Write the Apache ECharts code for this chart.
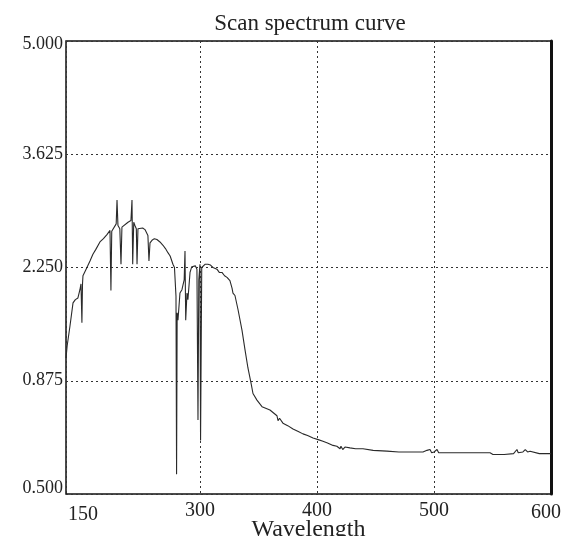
<!DOCTYPE html>
<html>
<head>
<meta charset="utf-8">
<script src="https://cdn.jsdelivr.net/npm/echarts@6/dist/echarts.min.js"></script>
<style>html,body{margin:0;padding:0;background:#fff;}#c{width:563px;height:536px;}</style>
</head>
<body>
<div id="c"></div>
<script>
var titleText = 'Scan spectrum curve';
var xName = 'Wavelength';
var xTickValues = [185.5, 300, 400, 500, 600];
var xTickLabels = ['150', '300', '400', '500', '600'];
var yTickValues = [-0.5, 0.875, 2.25, 3.625, 5];
var yTickLabels = ['0.500', '0.875', '2.250', '3.625', '5.000'];
var wavelength = [
 185.5,186.5,188.9,191.5,193.5,195.7,197.4,198.3,199.1,199.6,200.0,203.4,206,208.5,211,214.5,217.5,220.5,223.1,223.9,
 224.6,225.6,228.4,229.1,229.9,231.5,232.5,233.3,234.2,238.5,241.0,241.9,242.5,243.4,244.4,245.6,246.2,247,248.7,251,
 253.0,255.5,256.4,257.3,259.0,261,263.2,265.8,268.4,270.5,272.6,274.5,276.1,276.9,278.2,279.5,280.0,280.5,281.2,282.9,
 284.6,285.5,286.5,287.2,287.8,288.9,289.7,291.5,293,294.0,296,297.4,298.3,299.0,300.0,300.5,301.5,302.6,304.5,306.8,
 309,311.1,314.5,316.5,318.8,321,323.1,325.6,327.4,328.2,329.9,332.5,335.9,338.5,341.0,343.6,345.3,348.7,353.0,359.8,
 365.8,366.7,368,370.9,375,379.5,384,388.0,392,396.6,401,405.1,409,413.7,417,419.7,420.5,422,423.9,425,
 428.2,433,439.3,448,459.8,470,480,490.6,494,496.6,498,500,502.6,504,520,535,547.9,550.4,560,568,
 570.9,572,576,578,580,582.1,590,600
];
var absorbance = [
 1.15,1.30,1.54,1.82,1.86,1.88,1.98,2.05,1.58,2.05,2.15,2.25,2.33,2.41,2.47,2.56,2.60,2.65,2.70,1.97,
 2.69,2.71,2.78,3.07,2.76,2.72,2.29,2.74,2.76,2.80,2.82,3.07,2.29,2.80,2.76,2.72,2.29,2.72,2.74,2.73,
 2.71,2.64,2.33,2.55,2.58,2.60,2.59,2.56,2.52,2.48,2.43,2.39,2.37,2.29,2.25,1.90,-0.26,1.70,1.61,1.94,
 1.98,2.04,2.10,2.45,1.61,1.94,1.86,2.19,2.26,2.25,2.27,2.23,0.40,2.10,2.29,0.15,2.25,2.27,2.29,2.29,
 2.28,2.25,2.23,2.19,2.19,2.15,2.13,2.09,2.00,1.94,1.91,1.74,1.49,1.25,1.03,0.85,0.72,0.64,0.56,0.52,
 0.45,0.39,0.42,0.36,0.33,0.29,0.26,0.23,0.21,0.18,0.16,0.14,0.12,0.09,0.08,0.05,0.08,0.04,0.07,0.05,
 0.06,0.05,0.05,0.03,0.02,0.01,0.01,0.01,0.03,0.04,0.00,0.01,0.04,0.00,0.00,0.00,0.00,-0.02,-0.02,-0.01,
 0.04,0.00,0.01,0.04,0.01,0.02,-0.01,-0.01
];
var seriesData = wavelength.map(function (w, i) { return [w, absorbance[i]]; });

var serif = '"Liberation Serif", "DejaVu Serif", serif';
var chart = echarts.init(document.getElementById('c'));
chart.setOption({
  animation: false,
  backgroundColor: '#fff',
  title: {
    text: titleText, left: 305, top: 7, textAlign: 'center',
    textStyle: { fontFamily: serif, fontWeight: 'normal', fontSize: 23, color: '#222' }
  },
  grid: {
    left: 66, right: 12, top: 41, bottom: 42,
    containLabel: false, outerBoundsMode: 'none',
    show: true, borderColor: '#111', borderWidth: 1.5, backgroundColor: 'transparent'
  },
  xAxis: {
    type: 'value', min: 185.5, max: 600,
    name: xName, nameLocation: 'middle', nameGap: 24, nameMoveOverlap: false,
    nameTextStyle: { fontFamily: serif, fontSize: 24, color: '#222', verticalAlign: 'top' },
    axisLine: { show: false },
    axisTick: { show: false, customValues: xTickValues },
    axisLabel: {
      customValues: xTickValues, margin: 7,
      fontFamily: serif, fontSize: 20, color: '#222',
      formatter: function (v) {
        var i = xTickValues.indexOf(v);
        var t = i >= 0 ? xTickLabels[i] : '';
        if (i === 0) return '{a|' + t + '}';
        if (i === xTickValues.length - 1) return '{b|' + t + '}';
        return t;
      },
      rich: {
        a: { fontFamily: serif, fontSize: 20, color: '#222', padding: [4, 0, 0, 34] },
        b: { fontFamily: serif, fontSize: 20, color: '#222', padding: [2, 10, 0, 0] }
      }
    },
    splitLine: { show: true, lineStyle: { color: '#333', type: [2, 3], width: 1 } }
  },
  yAxis: [{
    type: 'value', min: -0.5, max: 5,
    axisLine: { show: false },
    axisTick: { show: false, customValues: yTickValues },
    axisLabel: {
      customValues: yTickValues, margin: 3,
      fontFamily: serif, fontSize: 18, color: '#222',
      formatter: function (v) {
        var i = yTickValues.indexOf(v);
        var t = i >= 0 ? yTickLabels[i] : '';
        if (i === 0) return '{a|' + t + '}';
        if (i === yTickValues.length - 1) return '{b|' + t + '}';
        return t;
      },
      rich: {
        a: { fontFamily: serif, fontSize: 18, color: '#222', padding: [0, 0, 12, 0] },
        b: { fontFamily: serif, fontSize: 18, color: '#222', padding: [6, 0, 0, 0] }
      }
    },
    splitLine: { show: true, lineStyle: { color: '#333', type: [2, 3], width: 1 } }
  }, {
    type: 'value', min: -0.5, max: 5, position: 'right',
    axisLine: { show: true, lineStyle: { color: '#111', width: 3 } },
    axisTick: { show: false }, axisLabel: { show: false }, splitLine: { show: false }
  }],
  series: [{
    type: 'line', data: seriesData, showSymbol: false, symbol: 'none',
    lineStyle: { color: '#2a2a2a', width: 1.1 }
  }]
});
</script>
</body>
</html>
